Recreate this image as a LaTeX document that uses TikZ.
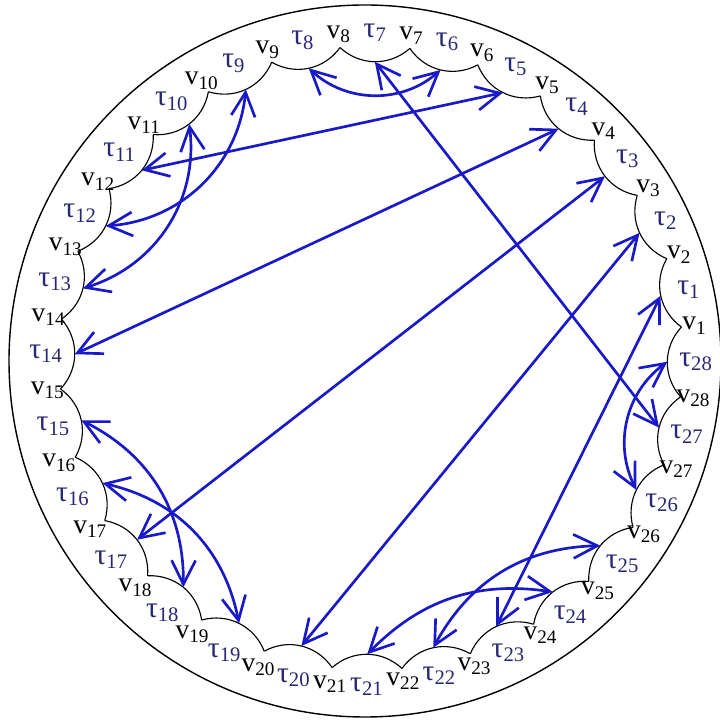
\documentclass[tikz,border=0pt]{standalone}
\usepackage{fontspec}
\setmainfont{Liberation Serif}
\usetikzlibrary{arrows.meta,calc}
\definecolor{arrblue}{RGB}{25,25,200}
\definecolor{lblnavy}{RGB}{40,40,115}
\begin{document}
\begin{tikzpicture}[x=0.025cm,y=0.025cm,
  rim/.style={black,line width=0.8pt},
  pairarrow/.style={arrblue,line width=1.9pt,{Straight Barb[length=17pt,width=17pt]}-{Straight Barb[length=17pt,width=17pt]}},
  vlab/.style={font=\fontsize{19.5}{22}\selectfont,text=black,inner sep=0pt},
  tlab/.style={font=\fontsize{21}{23}\selectfont,text=lblnavy,inner sep=0pt}]
\useasboundingbox (0,0) rectangle (720,720);
\draw[line width=1pt] (365,359) circle[radius=356];
\coordinate (C) at (371,362);
\foreach \k in {1,...,28}{
  \coordinate (v\k) at ($(C)+({5.7+(\k-1)*360/28}:312)$);
}
\foreach \k in {1,...,28}{
  \pgfmathtruncatemacro{\n}{mod(\k,28)+1}
  \draw[rim] (v\k) to[bend left=42] node[coordinate,pos=0.5] (t\k) {} (v\n);
}
\foreach \k in {1,...,28}{
  \pgfmathsetmacro{\rr}{(\k>15 && \k<22) ? 329 : 325}
  \node[vlab] (lv\k) at ($(C)+({5.7+(\k-1)*360/28}:\rr)$) {v\textsubscript{\k}};
  \node[tlab] (lt\k) at ($(C)+({5.7+(\k-1)*360/28+180/28}:\rr)$) {τ\textsubscript{\k}};
}
\draw[pairarrow] (t1) -- (t23);
\draw[pairarrow] (t2) -- (t20);
\draw[pairarrow] (t3) -- (t17);
\draw[pairarrow] (t4) -- (t14);
\draw[pairarrow] (t5) -- (t11);
\draw[pairarrow] (t7) -- (t27);
\draw[pairarrow] (t8) to[bend right=42] (t6);
\draw[pairarrow] (t9) to[bend left=40] (t12);
\draw[pairarrow] (t10) to[bend left=40] (t13);
\draw[pairarrow] (t15) to[bend left=32] (t18);
\draw[pairarrow] (t16) to[bend left=33] (t19);
\draw[pairarrow] (t21) to[bend left=27] (t24);
\draw[pairarrow] (t22) to[bend left=30] (t25);
\draw[pairarrow] (t26) to[bend left=40] (t28);
\end{tikzpicture}
\end{document}
